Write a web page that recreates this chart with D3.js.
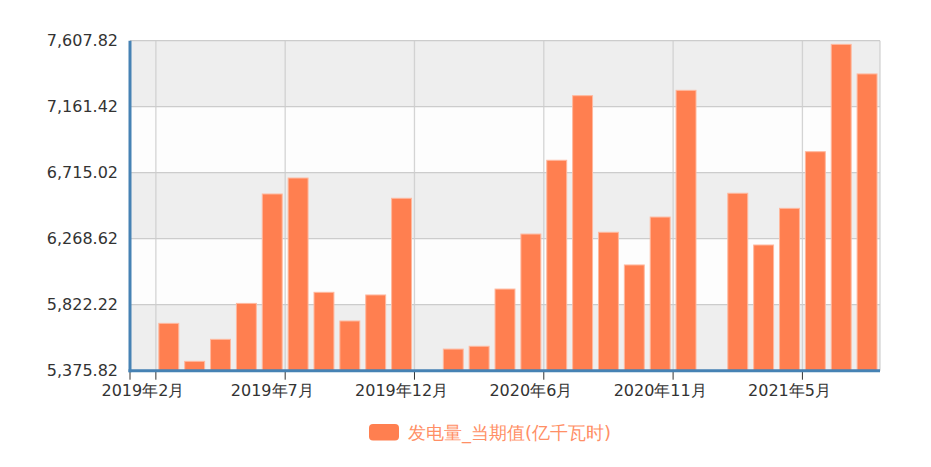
<!DOCTYPE html>
<html>
<head>
<meta charset="utf-8">
<script src="https://cdn.jsdelivr.net/npm/d3@7"></script>
<style>
  body { margin: 0; background: #fff; }
  text { font-family: "DejaVu Sans", sans-serif; }
</style>
</head>
<body>
<div id="chart"></div>
<script>
// categories (2020年1月 and 2021年1月 are not reported separately)
const months = ["2019年2月", "2019年3月", "2019年4月", "2019年5月", "2019年6月", "2019年7月",
  "2019年8月", "2019年9月", "2019年10月", "2019年11月", "2019年12月",
  "2020年2月", "2020年3月", "2020年4月", "2020年5月", "2020年6月", "2020年7月",
  "2020年8月", "2020年9月", "2020年10月", "2020年11月", "2020年12月",
  "2021年2月", "2021年3月", "2021年4月", "2021年5月", "2021年6月", "2021年7月", "2021年8月"];
// 发电量_当期值 (亿千瓦时), null = no value
const generation = [null, 5696, 5439, 5588, 5831, 6571,
  6679, 5906, 5712, 5888, 6542,
  null, 5522, 5541, 5928, 6300, 6799,
  7236, 6312, 6091, 6415, 7272,
  null, 6576, 6226, 6474, 6857, 7583, 7383];
const yTicks = [5375.82, 5822.22, 6268.62, 6715.02, 7161.42, 7607.82];
const labelMonths = ["2019年2月", "2019年7月", "2019年12月", "2020年6月", "2020年11月", "2021年5月"];
const seriesName = "发电量_当期值(亿千瓦时)";

const W = 931, H = 467;
const margin = { top: 40.7, right: 51, bottom: 96.3, left: 130 };
const width = W - margin.left - margin.right;
const height = H - margin.top - margin.bottom;

const data = months.map((m, i) => ({ month: m, value: generation[i] }));

const x = d3.scaleBand()
  .domain(months)
  .range([0, width])
  .paddingInner(0.23)
  .paddingOuter(0.115);
const step = x.step();
const edge = m => x(m) - step * x.paddingInner() / 2;   // left boundary of a category

const y = d3.scaleLinear()
  .domain([yTicks[0], yTicks[yTicks.length - 1]])
  .range([height, 0]);

const svg = d3.select("#chart").append("svg")
  .attr("width", W)
  .attr("height", H);

const g = svg.append("g")
  .attr("transform", `translate(${margin.left},${margin.top})`);

// alternating split areas
const bands = d3.pairs(yTicks);
g.selectAll("rect.area")
  .data(bands)
  .enter().append("rect")
  .attr("class", "area")
  .attr("x", 0)
  .attr("width", width)
  .attr("y", d => y(d[1]))
  .attr("height", d => y(d[0]) - y(d[1]))
  .attr("fill", (d, i) => i % 2 === 0 ? "#eeeeee" : "#fdfdfd");

// horizontal grid
g.selectAll("line.hgrid")
  .data(yTicks)
  .enter().append("line")
  .attr("class", "hgrid")
  .attr("x1", 0).attr("x2", width)
  .attr("y1", d => y(d)).attr("y2", d => y(d))
  .attr("stroke", "#cccccc")
  .attr("stroke-width", 1.3);

// vertical grid at the right boundary of every labelled month
const vgrid = labelMonths.map(m => edge(m) + step).concat([width]);
g.selectAll("line.vgrid")
  .data(vgrid)
  .enter().append("line")
  .attr("class", "vgrid")
  .attr("x1", d => d).attr("x2", d => d)
  .attr("y1", 0).attr("y2", height)
  .attr("stroke", "#cccccc")
  .attr("stroke-opacity", 0.85)
  .attr("stroke-width", 1.3);

// bars
g.selectAll("rect.bar")
  .data(data.filter(d => d.value !== null))
  .enter().append("rect")
  .attr("class", "bar")
  .attr("x", d => x(d.month))
  .attr("width", x.bandwidth())
  .attr("y", d => y(d.value))
  .attr("height", d => height - y(d.value))
  .attr("fill", "#ff7f50")
  .attr("stroke", "#ffb89e")
  .attr("stroke-width", 1);

// y axis
const yAxis = d3.axisLeft(y)
  .tickValues(yTicks)
  .tickSize(0)
  .tickPadding(12)
  .tickFormat(d3.format(",.2f"));
const ya = g.append("g").call(yAxis);
ya.select(".domain").remove();
ya.selectAll("text")
  .style("font-size", "16px")
  .attr("fill", "#333");

// x axis labels, centred on their month
const xAxis = d3.axisBottom(x)
  .tickValues(labelMonths)
  .tickSize(0)
  .tickPadding(14);
const xa = g.append("g")
  .attr("transform", `translate(0,${height})`)
  .call(xAxis);
xa.select(".domain").remove();
xa.selectAll("text")
  .style("font-size", "16px")
  .attr("fill", "#333");

// x ticks on category boundaries
const tickPos = [0].concat(labelMonths.map(m => edge(m) + step));
g.selectAll("line.xtick")
  .data(tickPos)
  .enter().append("line")
  .attr("class", "xtick")
  .attr("x1", d => d).attr("x2", d => d)
  .attr("y1", height).attr("y2", height + 9)
  .attr("stroke", "#333")
  .attr("stroke-width", 1);

// axis lines
g.append("line")
  .attr("x1", 0).attr("x2", 0)
  .attr("y1", 0).attr("y2", height + 1.5)
  .attr("stroke", "#4682b4")
  .attr("stroke-width", 3);
g.append("line")
  .attr("x1", -1.5).attr("x2", width)
  .attr("y1", height).attr("y2", height)
  .attr("stroke", "#4682b4")
  .attr("stroke-width", 3);

// legend
const legend = svg.append("g")
  .attr("transform", "translate(369,424)");
legend.append("rect")
  .attr("width", 30)
  .attr("height", 16.5)
  .attr("rx", 4)
  .attr("fill", "#ff7f50");
legend.append("text")
  .attr("x", 39)
  .attr("y", 8.5)
  .attr("dy", "0.35em")
  .style("font-size", "18px")
  .attr("fill", "#ff8f66")
  .text(seriesName);
</script>
</body>
</html>
